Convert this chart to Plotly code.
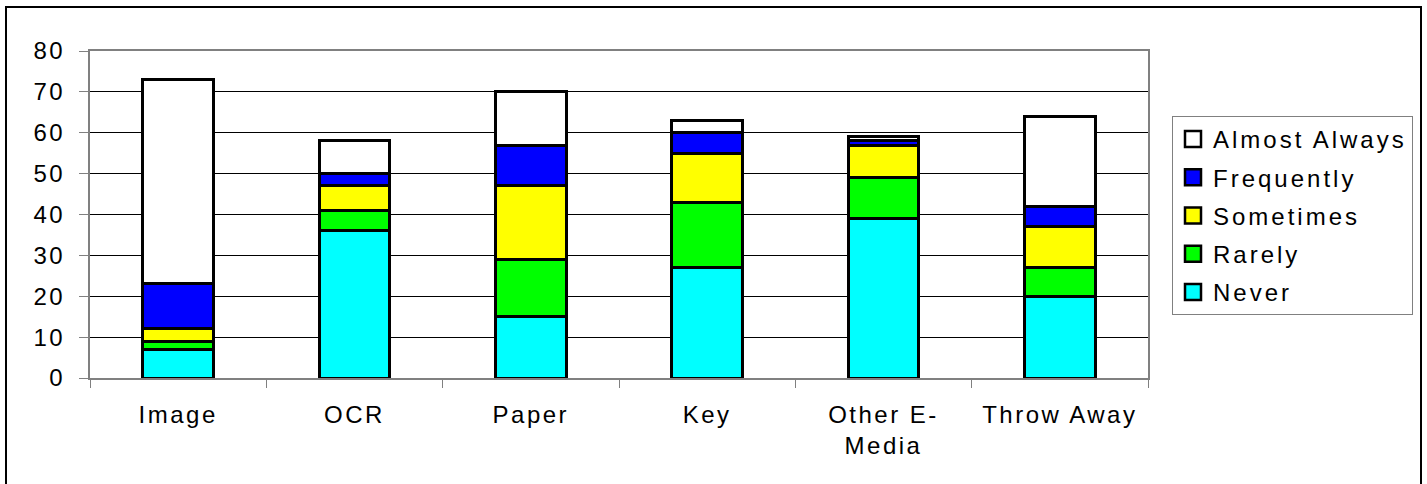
import plotly.graph_objects as go

categories = ["Image", "OCR", "Paper", "Key", "Other E-<br>Media", "Throw Away"]
never = [7, 36, 15, 27, 39, 20]
rarely = [2, 5, 14, 16, 10, 7]
sometimes = [3, 6, 18, 12, 8, 10]
frequently = [11, 3, 10, 5, 1, 5]
almost_always = [50, 8, 13, 3, 1, 22]
y_ticks = [0, 10, 20, 30, 40, 50, 60, 70, 80]

series = [
    ("Never", never, "#00FFFF"),
    ("Rarely", rarely, "#00FF00"),
    ("Sometimes", sometimes, "#FFFF00"),
    ("Frequently", frequently, "#0000FF"),
    ("Almost Always", almost_always, "#FFFFFF"),
]

def sp(t, ls=2.5):
    return "<br>".join(f'<span style="letter-spacing:{ls}px">{p}</span>' for p in t.split("<br>"))

W, H = 1427, 484
L, R, T, B = 90, 1427 - 1148, 51, 484 - 378
pw, ph = W - L - R, H - T - B

fig = go.Figure()
for name, vals, col in series:
    fig.add_trace(go.Bar(
        x=categories, y=vals, name=name, showlegend=False,
        marker=dict(color=col, line=dict(color="black", width=3)),
        width=0.4,
    ))
for name, vals, col in reversed(series):
    fig.add_trace(go.Scatter(
        x=[None], y=[None], mode="markers", name=sp(name, 3), legendgroup=name,
        marker=dict(symbol="square", size=16, color=col, line=dict(color="black", width=2.5)),
    ))

fig.update_layout(
    width=W, height=H, barmode="stack",
    margin=dict(l=L, r=R, t=T, b=B, autoexpand=False),
    paper_bgcolor="white", plot_bgcolor="white",
    font=dict(family="Liberation Sans, Arial, sans-serif", size=24, color="black"),
    bargap=0.6,
    legend=dict(
        x=(1172 - L) / pw, y=(378 - 116) / ph, xanchor="left", yanchor="top",
        bordercolor="#808080", borderwidth=1, bgcolor="white",
        font=dict(size=24), traceorder="grouped", tracegroupgap=4, itemsizing="trace",
    ),
    shapes=[dict(type="rect", xref="paper", yref="paper",
                 x0=(6 - L) / pw, x1=(1421 - L) / pw,
                 y0=(378 - 495) / ph, y1=(378 - 7) / ph,
                 line=dict(color="black", width=2), layer="below")],
)
fig.update_yaxes(
    range=[0, 80], tickvals=y_ticks, ticktext=[sp(str(v)) for v in y_ticks],
    showgrid=True, gridcolor="black", gridwidth=1,
    showline=True, linecolor="#808080", linewidth=2, mirror=True,
    ticks="outside", ticklen=9, tickcolor="#808080", tickwidth=1,
    ticklabelstandoff=9, zeroline=False,
)
fig.update_xaxes(
    tickvals=categories, ticktext=[sp(c) for c in categories],
    showline=True, linecolor="#808080", linewidth=2, mirror=True,
    ticks="outside", ticklen=8, tickcolor="#808080", tickwidth=1,
    tickson="boundaries", showgrid=False, ticklabelstandoff=14,
)

fig.write_html("out.html")
